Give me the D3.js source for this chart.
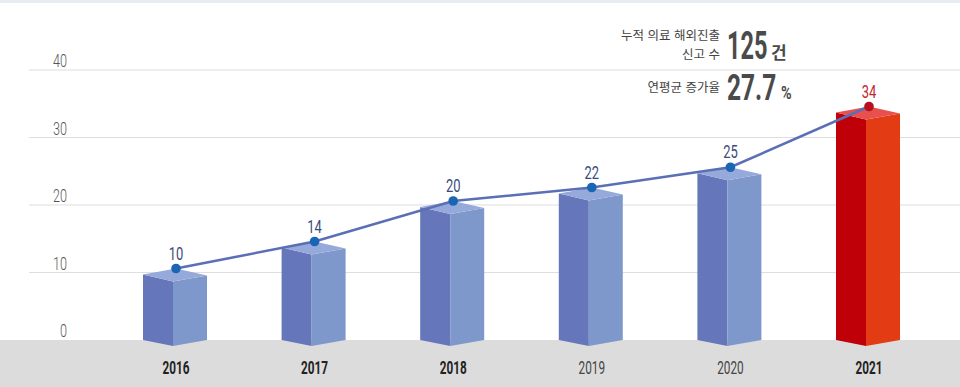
<!DOCTYPE html>
<html lang="ko">
<head>
<meta charset="UTF-8">
<title>누적 의료 해외진출 신고 수</title>
<script src="https://d3js.org/d3.v7.min.js"></script>
<style>
    body { margin: 0; background: #fff; }
    svg { display: block; }
    .num { font-family: "Roboto", "DejaVu Sans", sans-serif; }
    .kr { font-family: "Noto Sans CJK KR", "Noto Sans", sans-serif; }
</style>
</head>
<body>
<div id="chart"></div>
<script>
    const years = ["2016", "2017", "2018", "2019", "2020", "2021"];
    const counts = [10, 14, 20, 22, 25, 34];
    const yTicks = [0, 10, 20, 30, 40];
    const boldYears = ["2016", "2017", "2018", "2021"];

    const width = 960, height = 387;
    const baseY = 340;

    const svg = d3.select("#chart").append("svg")
        .attr("width", width)
        .attr("height", height);

    // faint band at the top
    svg.append("rect").attr("x", 0).attr("y", 0).attr("width", width).attr("height", 3).attr("fill", "#e9ecf5");

    const x = d3.scalePoint().domain(years).range([176, 869]);
    const y = d3.scaleLinear().domain([0, 40]).range([baseY, 70]);

    // gridlines + labels
    const grid = svg.append("g");
    grid.selectAll("line")
        .data(yTicks.filter(d => d > 0))
        .enter().append("line")
        .attr("x1", 29).attr("x2", width)
        .attr("y1", d => y(d)).attr("y2", d => y(d))
        .attr("stroke", "#dedede").attr("stroke-width", 1.2);

    grid.selectAll("text")
        .data(yTicks)
        .enter().append("text")
        .attr("class", "num")
        .attr("transform", d => `translate(67,${y(d) - 3}) scale(0.72,1)`)
        .attr("text-anchor", "end")
        .attr("font-size", 17.5)
        .attr("font-weight", 300)
        .attr("fill", "#555")
        .text(d => d);

    // gray floor
    svg.append("rect").attr("x", 0).attr("y", baseY).attr("width", width).attr("height", height - baseY).attr("fill", "#dcdcdc");

    // 3D bars
    const isLast = (i) => i === years.length - 1;
    const bars = svg.append("g");
    years.forEach((yr, i) => {
        const cx = x(yr);
        const T = y(counts[i]) - 4;
        const left = cx - 33, front = cx - 3, right = cx + 31;
        const cLeft = isLast(i) ? "#c00008" : "#6576ba";
        const cRight = isLast(i) ? "#e33b14" : "#7f98cb";
        const cTop = isLast(i) ? "#e8504e" : "#95a9da";
        const g = bars.append("g");
        g.append("path")
            .attr("d", `M${left},${T + 6} L${front},${T + 13} L${front},${baseY + 6} L${left},${baseY} Z`)
            .attr("fill", cLeft);
        g.append("path")
            .attr("d", `M${front},${T + 13} L${right},${T + 7} L${right},${baseY} L${front},${baseY + 6} Z`)
            .attr("fill", cRight);
        g.append("path")
            .attr("d", `M${cx},${T} L${right},${T + 7} L${front},${T + 13} L${left},${T + 6} Z`)
            .attr("fill", cTop);
    });

    // trend line
    const line = d3.line()
        .x((d, i) => x(years[i]))
        .y(d => y(d) - 4);
    svg.append("path")
        .datum(counts)
        .attr("d", line)
        .attr("fill", "none")
        .attr("stroke", "#5a6fb6")
        .attr("stroke-width", 2.5);

    svg.selectAll(".dot")
        .data(counts)
        .enter().append("circle")
        .attr("cx", (d, i) => x(years[i]))
        .attr("cy", d => y(d) - 4)
        .attr("r", 4.8)
        .attr("fill", (d, i) => isLast(i) ? "#b80f1c" : "#1a65b4");

    svg.selectAll(".vlabel")
        .data(counts)
        .enter().append("text")
        .attr("class", "num")
        .attr("transform", (d, i) => `translate(${x(years[i])},${y(d) - 13}) scale(0.7,1)`)
        .attr("text-anchor", "middle")
        .attr("font-size", 18.5)
        .attr("fill", (d, i) => isLast(i) ? "#c0262c" : "#3a4d7a")
        .text(d => d);

    // year labels
    svg.selectAll(".year")
        .data(years)
        .enter().append("text")
        .attr("class", "num")
        .attr("transform", d => `translate(${x(d)},374) scale(0.62,1)`)
        .attr("text-anchor", "middle")
        .attr("font-size", 19)
        .attr("font-weight", d => boldYears.includes(d) ? 700 : 400)
        .attr("fill", d => boldYears.includes(d) ? "#222" : "#444")
        .text(d => d);

    // annotation
    const ann = svg.append("g");
    ann.append("text").attr("class", "kr").attr("x", 720).attr("y", 40)
        .attr("text-anchor", "end").attr("font-size", 12.5).attr("fill", "#444").text("누적 의료 해외진출");
    ann.append("text").attr("class", "kr").attr("x", 720).attr("y", 59)
        .attr("text-anchor", "end").attr("font-size", 12.5).attr("fill", "#444").text("신고 수");
    ann.append("text").attr("class", "num")
        .attr("transform", "translate(727,59) scale(0.62,1)")
        .attr("font-size", 38).attr("font-weight", 700).attr("fill", "#4a4a4a").text("125");
    ann.append("text").attr("class", "kr").attr("x", 771).attr("y", 59)
        .attr("font-size", 17).attr("font-weight", 700).attr("fill", "#4a4a4a").text("건");

    ann.append("text").attr("class", "kr").attr("x", 720).attr("y", 92)
        .attr("text-anchor", "end").attr("font-size", 12.5).attr("fill", "#444").text("연평균 증가율");
    ann.append("text").attr("class", "num")
        .attr("transform", "translate(727,100) scale(0.68,1)")
        .attr("font-size", 36).attr("font-weight", 700).attr("fill", "#4a4a4a").text("27.7");
    ann.append("text").attr("class", "num")
        .attr("transform", "translate(781,99) scale(0.8,1)")
        .attr("font-size", 18).attr("font-weight", 700).attr("fill", "#4a4a4a").text("%");
</script>
</body>
</html>
